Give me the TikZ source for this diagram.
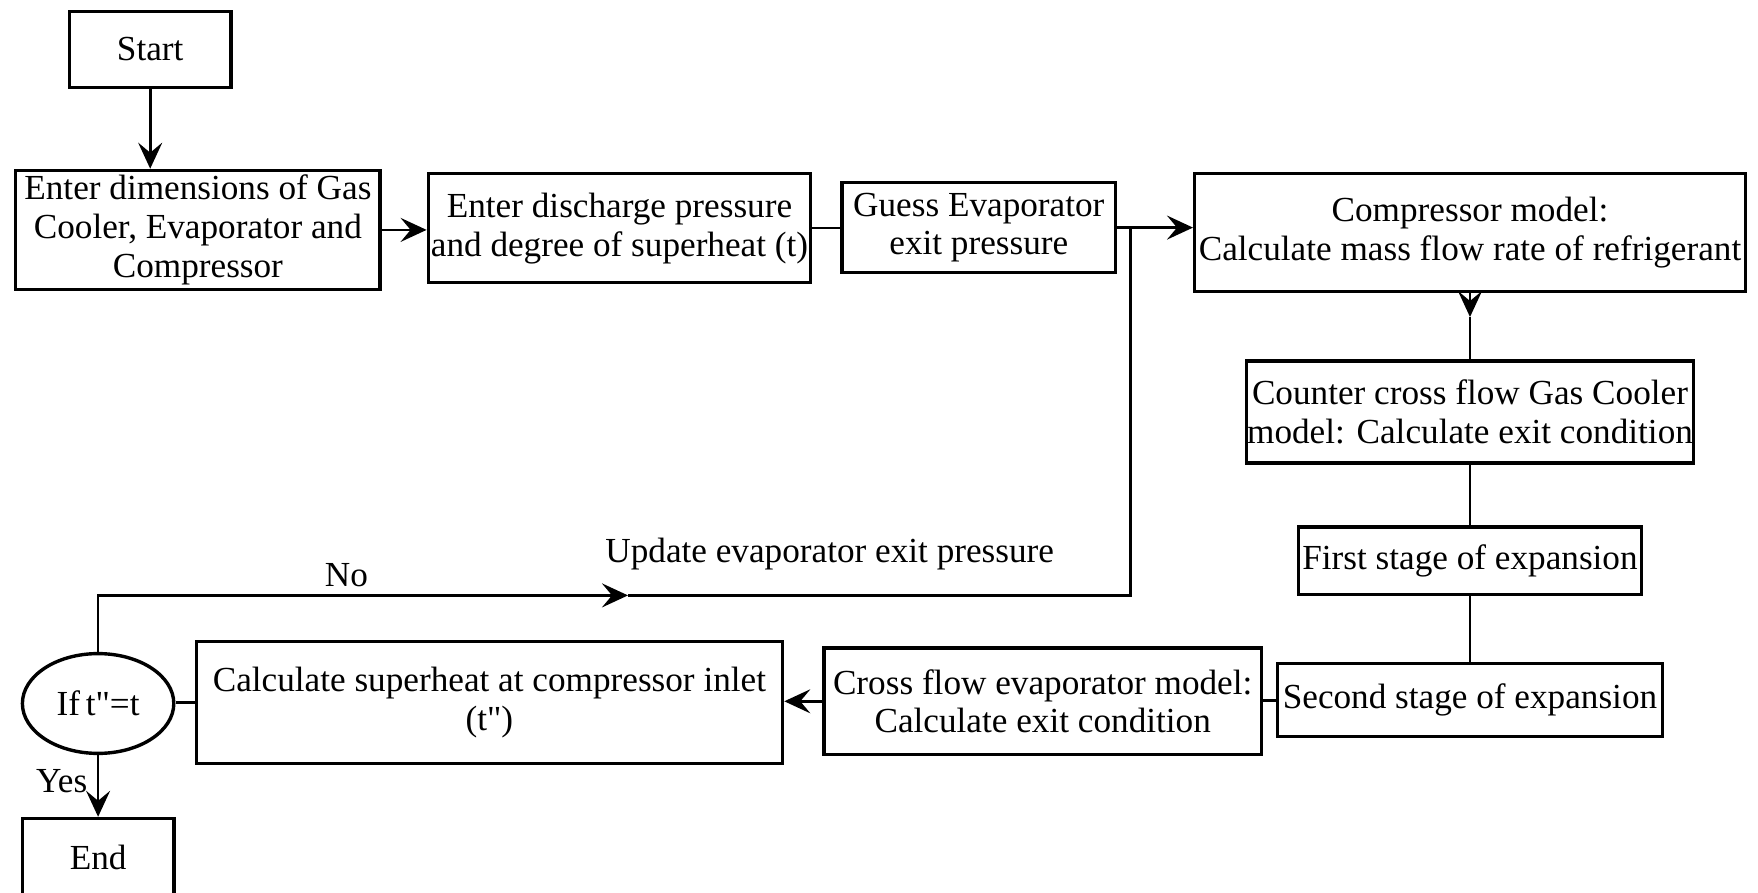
\documentclass[tikz,border=0pt]{standalone}
\usepackage{fontspec}
\setmainfont{Liberation Serif}[Ligatures=TeXOff]
\usetikzlibrary{arrows.meta,shapes.geometric}
\begin{document}
\begin{tikzpicture}[x=0.5pt,y=-0.5pt,
  every node/.style={font=\fontsize{17.6}{19.4}\selectfont},
  box/.style={draw,line width=1.7pt,inner sep=0pt,align=center},
  decision/.style={draw,ellipse,line width=1.7pt,inner sep=0pt,align=center},
  conn/.style={line width=1.3pt},
  flow/.style={line width=1.3pt,-{Stealth[length=13pt,width=12pt,inset=5pt]}}]
\useasboundingbox (0,0) rectangle (1758,893);

% process boxes, top row
\node[box,minimum width=80.8pt,minimum height=38pt] (start) at (150.2,49.3) {Start};
\node[box,minimum width=182.2pt,minimum height=59.5pt] (dims) at (197.9,229.9)
  {Enter dimensions of Gas\\Cooler, Evaporator and\\Compressor};
\node[box,minimum width=191.2pt,minimum height=54.4pt] (disch) at (619.5,228.2)
  {Enter discharge pressure\\and degree of superheat (t)};
\node[box,minimum width=136.8pt,minimum height=44.9pt] (guess) at (978.8,227.6)
  {Guess Evaporator\\exit pressure};
\node[box,minimum width=275.3pt,minimum height=58.9pt] (comp) at (1470,232.6)
  {Compressor model:\\Calculate mass flow rate of refrigerant};

% right column
\node[box,minimum width=223.7pt,minimum height=51pt] (gc) at (1470,412)
  {Counter cross flow Gas Cooler\\model: Calculate exit condition};
\node[box,minimum width=171.5pt,minimum height=33.7pt] (exp1) at (1470,560.6)
  {First stage of expansion};
\node[box,minimum width=192.3pt,minimum height=36.5pt] (exp2) at (1470,700.2)
  {Second stage of expansion};

% bottom row
\node[box,minimum width=218.7pt,minimum height=53.3pt] (evap) at (1042.7,701.3)
  {Cross flow evaporator model:\\Calculate exit condition};
\node[box,minimum width=293.2pt,minimum height=61.1pt] (sh) at (489.4,702.4)
  {Calculate superheat at compressor inlet\\(t\symbol{34})};
\node[decision,minimum width=75.7pt,minimum height=49.9pt] (test) at (98.1,703.5)
  {If\,t\symbol{34}=t};
\node[box,minimum width=75.7pt,minimum height=66pt] (end) at (98.1,884.5) {};
\node (endlabel) at (98.1,857.7) {End};

% labels
\node (no) at (346.4,575.2) {No};
\node (upd) at (829.7,553.9) {Update evaporator exit pressure};
\node (yes) at (61.7,781.5) {Yes};

% helper points
\coordinate (jn) at (1130.2,227.6);
\coordinate (looptip) at (628,595.4);
\coordinate (comptip) at (1470,317);

% connectors
\draw[flow] (start.south) -- (start.south |- dims.north);
\draw[flow] (dims.east) -- (disch.west |- dims.east);
\draw[conn] (disch.east) -- (guess.west |- disch.east);
\draw[flow] (guess.east) -- (comp.west |- guess.east);
\draw[flow] (comp.south) -- (comptip);
\draw[conn] (comptip) -- (gc.north);
\draw[conn] (gc.south) -- (exp1.north);
\draw[conn] (exp1.south) -- (exp2.north);
\draw[conn] (exp2.west) -- (evap.east |- exp2.west);
\draw[flow] (evap.west) -- (sh.east |- evap.west);
\draw[conn] (sh.west) -- (test.east |- sh.west);
\draw[flow] (test.north) |- (looptip);
\draw[conn] (looptip) -| (jn);
\draw[flow] (test.south) -- (end.north);
\end{tikzpicture}
\end{document}
